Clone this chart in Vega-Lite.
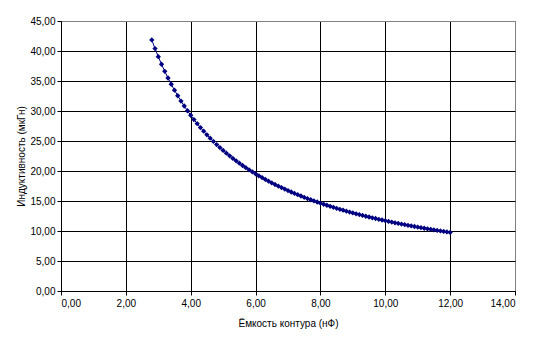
{
  "$schema": "https://vega.github.io/schema/vega-lite/v6.json",
  "autosize": "none",
  "width": 454,
  "height": 270,
  "padding": {"left": 61, "top": 21, "right": 26, "bottom": 53},
  "background": "white",
  "config": {
    "view": {"stroke": "#808080", "strokeWidth": 1},
    "font": "Liberation Sans",
    "axis": {
      "labelFont": "Liberation Sans",
      "titleFont": "Liberation Sans",
      "labelFontSize": 10,
      "titleFontSize": 10,
      "titleFontWeight": "normal",
      "labelColor": "black",
      "titleColor": "black",
      "domainColor": "black",
      "tickColor": "black",
      "tickSize": 4,
      "gridOpacity": 1,
      "gridWidth": 1
    }
  },
  "data": {
    "values": [
      {"c": 2.8, "l": 41.84}, {"c": 2.9, "l": 40.40}, {"c": 3.0, "l": 39.05}, {"c": 3.1, "l": 37.79},
      {"c": 3.2, "l": 36.61}, {"c": 3.3, "l": 35.50}, {"c": 3.4, "l": 34.46}, {"c": 3.5, "l": 33.47},
      {"c": 3.6, "l": 32.54}, {"c": 3.7, "l": 31.66}, {"c": 3.8, "l": 30.83}, {"c": 3.9, "l": 30.04},
      {"c": 4.0, "l": 29.29}, {"c": 4.1, "l": 28.57}, {"c": 4.2, "l": 27.89}, {"c": 4.3, "l": 27.24},
      {"c": 4.4, "l": 26.63}, {"c": 4.5, "l": 26.03}, {"c": 4.6, "l": 25.47}, {"c": 4.7, "l": 24.93},
      {"c": 4.8, "l": 24.41}, {"c": 4.9, "l": 23.91}, {"c": 5.0, "l": 23.43}, {"c": 5.1, "l": 22.97},
      {"c": 5.2, "l": 22.53}, {"c": 5.3, "l": 22.10}, {"c": 5.4, "l": 21.69}, {"c": 5.5, "l": 21.30},
      {"c": 5.6, "l": 20.92}, {"c": 5.7, "l": 20.55}, {"c": 5.8, "l": 20.20}, {"c": 5.9, "l": 19.86},
      {"c": 6.0, "l": 19.53}, {"c": 6.1, "l": 19.20}, {"c": 6.2, "l": 18.90}, {"c": 6.3, "l": 18.60},
      {"c": 6.4, "l": 18.30}, {"c": 6.5, "l": 18.02}, {"c": 6.6, "l": 17.75}, {"c": 6.7, "l": 17.49},
      {"c": 6.8, "l": 17.23}, {"c": 6.9, "l": 16.98}, {"c": 7.0, "l": 16.74}, {"c": 7.1, "l": 16.50},
      {"c": 7.2, "l": 16.27}, {"c": 7.3, "l": 16.05}, {"c": 7.4, "l": 15.83}, {"c": 7.5, "l": 15.62},
      {"c": 7.6, "l": 15.41}, {"c": 7.7, "l": 15.21}, {"c": 7.8, "l": 15.02}, {"c": 7.9, "l": 14.83},
      {"c": 8.0, "l": 14.64}, {"c": 8.1, "l": 14.46}, {"c": 8.2, "l": 14.29}, {"c": 8.3, "l": 14.11},
      {"c": 8.4, "l": 13.95}, {"c": 8.5, "l": 13.78}, {"c": 8.6, "l": 13.62}, {"c": 8.7, "l": 13.47},
      {"c": 8.8, "l": 13.31}, {"c": 8.9, "l": 13.16}, {"c": 9.0, "l": 13.02}, {"c": 9.1, "l": 12.87},
      {"c": 9.2, "l": 12.73}, {"c": 9.3, "l": 12.60}, {"c": 9.4, "l": 12.46}, {"c": 9.5, "l": 12.33},
      {"c": 9.6, "l": 12.20}, {"c": 9.7, "l": 12.08}, {"c": 9.8, "l": 11.95}, {"c": 9.9, "l": 11.83},
      {"c": 10.0, "l": 11.72}, {"c": 10.1, "l": 11.60}, {"c": 10.2, "l": 11.49}, {"c": 10.3, "l": 11.37},
      {"c": 10.4, "l": 11.26}, {"c": 10.5, "l": 11.16}, {"c": 10.6, "l": 11.05}, {"c": 10.7, "l": 10.95},
      {"c": 10.8, "l": 10.85}, {"c": 10.9, "l": 10.75}, {"c": 11.0, "l": 10.65}, {"c": 11.1, "l": 10.55},
      {"c": 11.2, "l": 10.46}, {"c": 11.3, "l": 10.37}, {"c": 11.4, "l": 10.28}, {"c": 11.5, "l": 10.19},
      {"c": 11.6, "l": 10.10}, {"c": 11.7, "l": 10.01}, {"c": 11.8, "l": 9.93}, {"c": 11.9, "l": 9.84},
      {"c": 12.0, "l": 9.76}
    ]
  },
  "encoding": {
    "x": {
      "field": "c", "type": "quantitative",
      "scale": {"domain": [0, 14], "nice": false, "zero": false},
      "axis": {
        "values": [0, 2, 4, 6, 8, 10, 12, 14],
        "labelExpr": "replace(format(datum.value, '.2f'), '.', ',')",
        "title": "Ёмкость контура (нФ)",
        "titlePadding": 10,
        "labelPadding": 3,
        "gridColor": {"condition": {"test": "datum.value == 14", "value": "#808080"}, "value": "black"}
      }
    },
    "y": {
      "field": "l", "type": "quantitative",
      "scale": {"domain": [0, 45], "nice": false, "zero": false},
      "axis": {
        "values": [0, 5, 10, 15, 20, 25, 30, 35, 40, 45],
        "labelExpr": "replace(format(datum.value, '.2f'), '.', ',')",
        "title": "Индуктивность (мкГн)",
        "titlePadding": 3,
        "labelPadding": 2,
        "gridColor": {"condition": {"test": "datum.value == 45", "value": "#808080"}, "value": "black"}
      }
    }
  },
  "layer": [
    {"mark": {"type": "line", "color": "#000080", "strokeWidth": 1}},
    {"mark": {"type": "point", "shape": "diamond", "filled": true, "color": "#000080", "size": 28, "opacity": 1}}
  ]
}
